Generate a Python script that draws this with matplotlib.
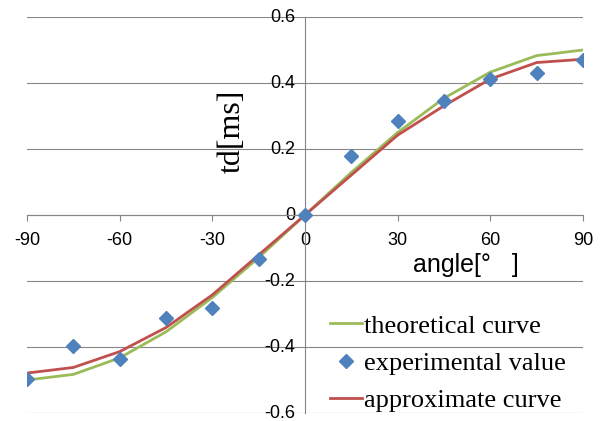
import matplotlib
matplotlib.use("Agg")
import matplotlib.pyplot as plt
import matplotlib.transforms as mtransforms

plt.rcParams["axes.unicode_minus"] = False

angles = [-90, -75, -60, -45, -30, -15, 0, 15, 30, 45, 60, 75, 90]
theoretical = [-0.500, -0.483, -0.433, -0.354, -0.250, -0.129, 0.0,
               0.129, 0.250, 0.354, 0.433, 0.483, 0.500]
experimental = [-0.497, -0.397, -0.436, -0.312, -0.282, -0.133, 0.0,
                0.179, 0.284, 0.345, 0.412, 0.430, 0.470]
approximate = [-0.479, -0.462, -0.414, -0.341, -0.242, -0.121, 0.0,
               0.121, 0.242, 0.331, 0.412, 0.462, 0.472]
xticks = [-90, -60, -30, 0, 30, 60, 90]
yticks = [-0.6, -0.4, -0.2, 0, 0.2, 0.4, 0.6]
ytick_labels = ["-0.6", "-0.4", "-0.2", "0", "0.2", "0.4", "0.6"]

fig = plt.figure(figsize=(6.06, 4.21), dpi=100)
ax = fig.add_axes([27/606, 1-413/421, 556/606, 396/421])

gray = "#868686"
ax.set_xlim(-90, 90)
ax.set_ylim(-0.6, 0.6)
ax.set_yticks(yticks)
ax.set_yticklabels(ytick_labels)
ax.set_xticks(xticks)
ax.yaxis.grid(True, color=gray, linewidth=0.8)
ax.set_axisbelow(True)

for s in ["top", "right"]:
    ax.spines[s].set_visible(False)
ax.spines["left"].set_position(("data", 0))
ax.spines["bottom"].set_position(("data", 0))
ax.spines["left"].set_color(gray)
ax.spines["bottom"].set_color(gray)
ax.spines["left"].set_linewidth(0.8)
ax.spines["bottom"].set_linewidth(0.8)

ax.tick_params(axis="y", length=0, pad=7)
ax.tick_params(axis="x", direction="out", length=4, color=gray, width=0.8, pad=8)
for lab in ax.get_xticklabels() + ax.get_yticklabels():
    lab.set_fontfamily("Liberation Sans")
    lab.set_fontsize(13)
shift_up = mtransforms.ScaledTranslation(0, 2/100, fig.dpi_scale_trans)
for lab in ax.get_yticklabels():
    lab.set_transform(lab.get_transform() + shift_up)

ax.plot(angles, theoretical, color="#9BBB59", linewidth=2.0, label="theoretical curve", zorder=3)
ax.plot(angles, experimental, linestyle="none", marker="D", markersize=7.5,
        color="#4F81BD", label="experimental value", zorder=4)
ax.plot(angles, approximate, color="#C0504D", linewidth=2.0, label="approximate curve", zorder=3)

ax.set_ylabel("td[ms]", family="Liberation Serif", fontsize=23)
ax.yaxis.set_label_coords(0.396, 0.712)
ax.set_xlabel("angle[°   ]", family="Liberation Sans", fontsize=18)
ax.xaxis.set_label_coords(0.79, 0.405)

leg = ax.legend(loc="center left", bbox_to_anchor=(330/606, 1-363/421),
                bbox_transform=fig.transFigure, frameon=False,
                prop=dict(family="Liberation Serif", size=19),
                handlelength=1.2, handletextpad=0.1, labelspacing=0.52,
                borderpad=0, borderaxespad=0)

fig.savefig("out.png", dpi=100)
